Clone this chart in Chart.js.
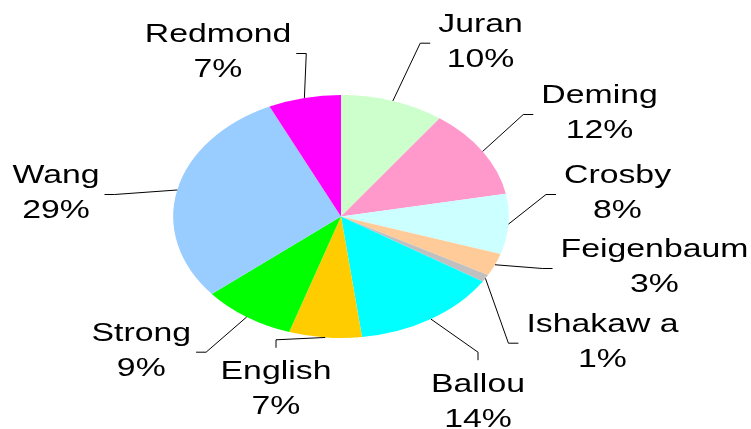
<!DOCTYPE html>
<html>
<head>
<meta charset="utf-8">
<script src="https://cdn.jsdelivr.net/npm/chart.js@4/dist/chart.umd.min.js"></script>
<style>
  html, body { margin: 0; padding: 0; background: #ffffff; }
  #wrap { width: 751px; height: 429px; position: relative; }
</style>
</head>
<body>
<div id="wrap"><canvas id="c"></canvas></div>
<script>
// ---- data ----
const names = ['Juran', 'Deming', 'Crosby', 'Feigenbaum', 'Ishakaw a', 'Ballou', 'English', 'Strong', 'Wang', 'Redmond'];
const shares = [10, 12, 8, 3, 1, 14, 7, 9, 29, 7];

// ---- styles / layout ----
const colors = ['#CCFFCC', '#FF99CC', '#CCFFFF', '#FFCC99', '#C0C0C0', '#00FFFF', '#FFCC00', '#00FF00', '#99CCFF', '#FF00FF'];
// label centre x, first-line baseline y, side of the label the leader line attaches to
const labelLayout = [
  [480.5, 31.7, 'left'],
  [599.5, 103, 'left'],
  [617.5, 183, 'left'],
  [654.5, 257, 'left'],
  [602.5, 331.7, 'left'],
  [478, 391.7, 'top'],
  [276, 379.3, 'top'],
  [141.3, 340.7, 'right'],
  [56, 183, 'right'],
  [218, 42, 'right']
];
const PIE_SX = 1.381;   // horizontal stretch of the pie (elliptical look)
const TEXT_SX = 1.3;    // horizontal stretch of the label text
const FONT = '26px "Liberation Sans", Arial, sans-serif';
const LINE_GAP = 35;

const ellipsePlugin = {
  id: 'ellipse',
  beforeDatasetsDraw(chart) {
    const el = chart.getDatasetMeta(0).data[0];
    const ctx = chart.ctx;
    ctx.save();
    ctx.translate(el.x, 0);
    ctx.scale(PIE_SX, 1);
    ctx.translate(-el.x, 0);
  },
  afterDatasetsDraw(chart) {
    chart.ctx.restore();
  }
};

const labelPlugin = {
  id: 'pieLabels',
  afterDraw(chart) {
    const ctx = chart.ctx;
    const meta = chart.getDatasetMeta(0);
    const data = chart.data.datasets[0].data;
    const total = data.reduce((a, b) => a + b, 0);
    ctx.save();
    ctx.font = FONT;
    ctx.fillStyle = '#000000';
    ctx.strokeStyle = '#000000';
    ctx.lineWidth = 1;
    ctx.textAlign = 'center';
    ctx.textBaseline = 'alphabetic';
    meta.data.forEach((arc, i) => {
      const p = arc.getProps(['x', 'y', 'startAngle', 'endAngle', 'outerRadius'], true);
      const mid = (p.startAngle + p.endAngle) / 2;
      const sx = p.x + p.outerRadius * PIE_SX * Math.cos(mid);
      const sy = p.y + p.outerRadius * Math.sin(mid);
      const [cx, b1, side] = labelLayout[i];
      const name = chart.data.labels[i];
      const pct = Math.round(data[i] / total * 100) + '%';
      const w = Math.max(ctx.measureText(name).width, ctx.measureText(pct).width) * TEXT_SX;
      let end, elbow;
      if (side === 'left') {
        end = [cx - w / 2 - 8, b1 + 11.5];
        elbow = [end[0] - 10, end[1]];
      } else if (side === 'right') {
        end = [cx + w / 2 + 5, b1 + 11.5];
        elbow = [end[0] + 10, end[1]];
      } else {
        end = [cx, b1 - 31.5];
        elbow = [cx, end[1] - 8];
      }
      ctx.beginPath();
      ctx.moveTo(sx, sy);
      ctx.lineTo(elbow[0], elbow[1]);
      ctx.lineTo(end[0], end[1]);
      ctx.stroke();
      [name, pct].forEach((t, k) => {
        ctx.save();
        ctx.translate(cx, b1 + k * LINE_GAP);
        ctx.scale(TEXT_SX, 1);
        ctx.fillText(t, 0, 0);
        ctx.restore();
      });
    });
    ctx.restore();
  }
};

new Chart(document.getElementById('c'), {
  type: 'pie',
  data: {
    labels: names,
    datasets: [{
      data: shares,
      backgroundColor: colors,
      borderWidth: 0,
      clip: false
    }]
  },
  options: {
    responsive: true,
    maintainAspectRatio: false,
    animation: false,
    events: [],
    layout: { padding: { top: 95, bottom: 91, left: 219.5, right: 288.5 } },
    plugins: {
      legend: { display: false },
      tooltip: { enabled: false }
    }
  },
  plugins: [ellipsePlugin, labelPlugin]
});
</script>
</body>
</html>
